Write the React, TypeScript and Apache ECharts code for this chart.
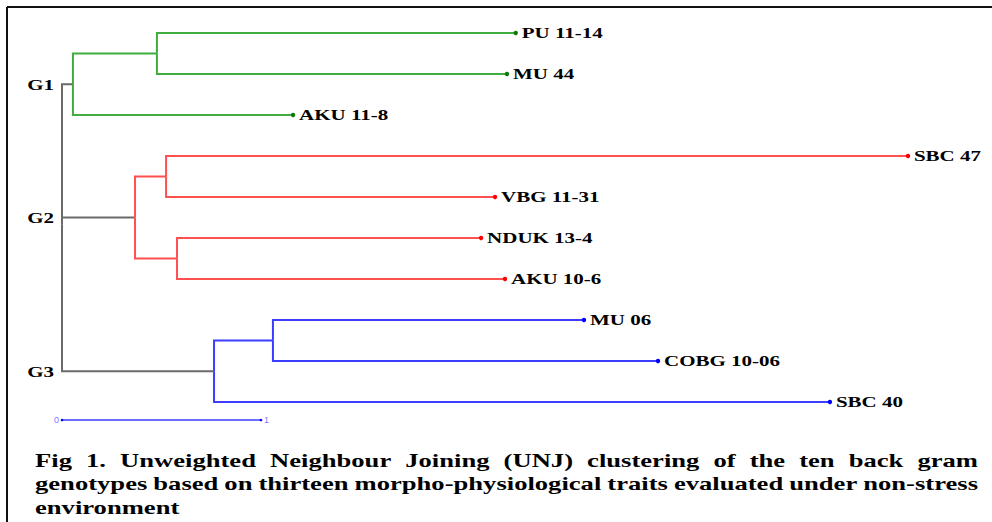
import React, { useEffect, useRef } from "react";
import * as echarts from "echarts";

// ---- Data ----
const leafNames = ["PU 11-14", "MU 44", "AKU 11-8", "SBC 47", "VBG 11-31", "NDUK 13-4", "AKU 10-6", "MU 06", "COBG 10-06", "SBC 40"];
const leafParents = ["G1a", "G1a", "G1", "G2a", "G2a", "G2b", "G2b", "G3a", "G3a", "G3"];
const leafDistances = [2.28, 2.236, 1.161, 4.251, 2.176, 2.106, 2.226, 2.623, 2.995, 3.859];
const leafGroups = ["G1", "G1", "G1", "G2", "G2", "G2", "G2", "G3", "G3", "G3"];

const innerNames = ["G1", "G1a", "G2", "G2a", "G2b", "G3", "G3a"];
const innerParents = ["root", "G1", "root", "G2", "G2", "root", "G3"];
const innerDistances = [0.055, 0.477, 0.367, 0.523, 0.578, 0.764, 1.06];
const innerGroups = ["G1", "G1", "G2", "G2", "G2", "G3", "G3"];

const groupNames = ["G1", "G2", "G3"];
const scaleBarTicks = [0, 1];

const captionLines = [
  "Fig 1. Unweighted Neighbour Joining (UNJ) clustering of the ten back gram",
  "genotypes based on thirteen morpho-physiological traits evaluated under non-stress",
  "environment",
];

// ---- Styles ----
const lineColors: Record<string, string> = { G1: "#3fae3f", G2: "#ff5050", G3: "#3d3dff", root: "#6a6a6a" };
const dotColors: Record<string, string> = { G1: "#0b7a0b", G2: "#ff0000", G3: "#0000ff" };
const SERIF = '"Liberation Serif", "Times New Roman", serif';
const X_STRETCH = 1.4;

function buildTree() {
  const x: Record<string, number> = { root: 0 };
  const y: Record<string, number> = {};
  const children: Record<string, string[]> = {};
  leafNames.forEach((n, i) => {
    x[n] = leafDistances[i];
    y[n] = i;
    (children[leafParents[i]] = children[leafParents[i]] || []).push(n);
  });
  innerNames.forEach((n, i) => {
    x[n] = innerDistances[i];
    (children[innerParents[i]] = children[innerParents[i]] || []).push(n);
  });
  const getY = (n: string): number => {
    if (y[n] !== undefined) return y[n];
    const cs = children[n];
    y[n] = cs.reduce((s, c) => s + getY(c), 0) / cs.length;
    return y[n];
  };
  getY("root");
  return { x, y };
}

function measure(text: string, font: string) {
  const ctx = document.createElement("canvas").getContext("2d")!;
  ctx.font = font;
  return ctx.measureText(text).width;
}

export default function App() {
  const ref = useRef<HTMLDivElement>(null);
  useEffect(() => {
    if (!ref.current) return;
    const chart = echarts.init(ref.current, undefined, { renderer: "svg" });
    const { x, y } = buildTree();

    const edges: any[] = [];
    const edgeColors: string[] = [];
    leafNames.forEach((n, i) => {
      const p = leafParents[i];
      edges.push([x[p], y[p], x[n], y[n]]);
      edgeColors.push(p === "root" ? lineColors.root : lineColors[leafGroups[i]]);
    });
    innerNames.forEach((n, i) => {
      const p = innerParents[i];
      edges.push([x[p], y[p], x[n], y[n]]);
      edgeColors.push(p === "root" ? lineColors.root : lineColors[innerGroups[i]]);
    });

    const leafData = leafNames.map((n, i) => [x[n], y[n], i]);
    const groupData = groupNames.map((g, i) => [x.root, y[g], i]);
    const scaleY = 9.44;

    // caption
    const capFont = `bold 19px ${SERIF}`;
    const capLeft = 35;
    const capWidth = 943;
    const capY = [460, 483.5, 507];
    const captionEls: any[] = [];
    captionLines.forEach((line, li) => {
      if (li < captionLines.length - 1) {
        const words = line.split(" ");
        const ws = words.map((w) => measure(w, capFont) * X_STRETCH);
        const total = ws.reduce((a, b) => a + b, 0);
        const gap = (capWidth - total) / (words.length - 1);
        let cx = capLeft;
        words.forEach((w, wi) => {
          captionEls.push({
            type: "text",
            x: cx,
            y: capY[li],
            scaleX: X_STRETCH,
            silent: true,
            style: { text: w, font: capFont, fill: "#000", textAlign: "left", textVerticalAlign: "middle", align: "left", verticalAlign: "middle" },
          });
          cx += ws[wi] + gap;
        });
      } else {
        captionEls.push({
          type: "text",
          x: capLeft,
          y: capY[li],
          scaleX: X_STRETCH,
          silent: true,
          style: { text: line, font: capFont, fill: "#000", textAlign: "left", textVerticalAlign: "middle", align: "left", verticalAlign: "middle" },
        });
      }
    });

    const option: any = {
      animation: false,
      backgroundColor: "#ffffff",
      grid: { left: 62, top: 33, width: 895.5, height: 369, containLabel: false },
      xAxis: { type: "value", min: 0, max: 4.5, show: false },
      yAxis: { type: "value", min: 0, max: 9, inverse: true, show: false },
      graphic: [
        { type: "line", shape: { x1: 7, y1: 7, x2: 992, y2: 7 }, style: { stroke: "#111", lineWidth: 2 }, silent: true },
        { type: "line", shape: { x1: 7, y1: 7, x2: 7, y2: 522 }, style: { stroke: "#111", lineWidth: 2 }, silent: true },
        ...captionEls,
      ],
      series: [
        {
          type: "custom",
          clip: false,
          silent: true,
          data: edges,
          renderItem: (params: any, api: any) => {
            const p0 = api.coord([api.value(0), api.value(1)]);
            const p1 = api.coord([api.value(2), api.value(3)]);
            return {
              type: "polyline",
              shape: { points: [[p0[0], p0[1]], [p0[0], p1[1]], [p1[0], p1[1]]] },
              style: { stroke: edgeColors[params.dataIndex], lineWidth: 2, fill: null },
            };
          },
        },
        {
          type: "custom",
          clip: false,
          silent: true,
          data: leafData,
          renderItem: (params: any, api: any) => {
            const i = api.value(2);
            const p = api.coord([api.value(0), api.value(1)]);
            return {
              type: "group",
              children: [
                { type: "circle", shape: { cx: p[0], cy: p[1], r: 2.2 }, style: { fill: dotColors[leafGroups[i]] } },
                {
                  type: "text",
                  x: p[0] + 6,
                  y: p[1] + 0.5,
                  scaleX: X_STRETCH,
                  style: { text: leafNames[i], font: `bold 15px ${SERIF}`, fill: "#000", textAlign: "left", textVerticalAlign: "middle", align: "left", verticalAlign: "middle" },
                },
              ],
            };
          },
        },
        {
          type: "custom",
          clip: false,
          silent: true,
          data: groupData,
          renderItem: (params: any, api: any) => {
            const i = api.value(2);
            const p = api.coord([api.value(0), api.value(1)]);
            return {
              type: "text",
              x: p[0] - 8,
              y: p[1] + 0.5,
              scaleX: X_STRETCH,
              style: { text: groupNames[i], font: `bold 15px ${SERIF}`, fill: "#000", textAlign: "right", textVerticalAlign: "middle", align: "right", verticalAlign: "middle" },
            };
          },
        },
        {
          type: "custom",
          clip: false,
          silent: true,
          data: [[scaleBarTicks[0], scaleBarTicks[1], scaleY]],
          renderItem: (params: any, api: any) => {
            const a = api.coord([api.value(0), api.value(2)]);
            const b = api.coord([api.value(1), api.value(2)]);
            return {
              type: "group",
              children: [
                { type: "line", shape: { x1: a[0], y1: a[1], x2: b[0], y2: b[1] }, style: { stroke: "#3d3dff", lineWidth: 1.6 } },
                { type: "circle", shape: { cx: a[0], cy: a[1], r: 1.3 }, style: { fill: "#0000ff" } },
                { type: "circle", shape: { cx: b[0], cy: b[1], r: 1.3 }, style: { fill: "#0000ff" } },
                { type: "text", x: a[0] - 3, y: a[1], style: { text: String(scaleBarTicks[0]), font: "9px sans-serif", fill: "#7a7aff", textAlign: "right", textVerticalAlign: "middle", align: "right", verticalAlign: "middle" } },
                { type: "text", x: b[0] + 3, y: b[1], style: { text: String(scaleBarTicks[1]), font: "9px sans-serif", fill: "#7a7aff", textAlign: "left", textVerticalAlign: "middle", align: "left", verticalAlign: "middle" } },
              ],
            };
          },
        },
      ],
    };
    chart.setOption(option);
    return () => chart.dispose();
  }, []);
  return <div ref={ref} style={{ position: "fixed", left: 0, top: 0, width: 992, height: 522, background: "#fff" }} />;
}
